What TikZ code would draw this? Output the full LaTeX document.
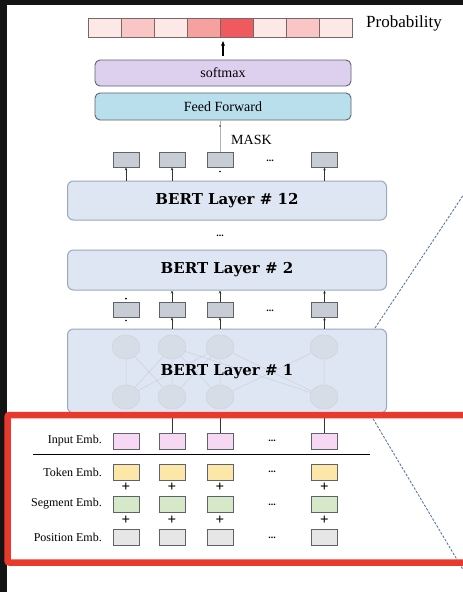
\documentclass[tikz,border=0pt]{standalone}
\usepackage{fontspec}
\setmainfont{Liberation Serif}
\newfontfamily\slabfont{DejaVu Serif}
\usetikzlibrary{arrows.meta,shapes.geometric}
\definecolor{bertfill}{HTML}{DFE6F3}
\definecolor{bertdraw}{HTML}{9AA8C0}
\definecolor{smfill}{HTML}{DDD0EF}
\definecolor{fffill}{HTML}{B9DEEC}
\definecolor{boxdraw}{HTML}{5E626A}
\definecolor{vecfill}{HTML}{C8CCD4}
\definecolor{inpfill}{HTML}{F6D8F4}
\definecolor{tokfill}{HTML}{FDE7A8}
\definecolor{segfill}{HTML}{D5E8C8}
\definecolor{posfill}{HTML}{E6E6E6}
\definecolor{redframe}{HTML}{E8392C}
\definecolor{dashblue}{HTML}{5A78A8}
\definecolor{ghostfill}{HTML}{D7DDE6}
\definecolor{ghostdraw}{HTML}{CBD1DA}
\definecolor{pa}{HTML}{FDE8E8}
\definecolor{pb}{HTML}{F9C5C5}
\definecolor{pc}{HTML}{F6A0A0}
\definecolor{pd}{HTML}{F05A5E}
\definecolor{pdraw}{HTML}{7A6666}
\begin{document}
\begin{tikzpicture}[x=1pt,y=-1pt,
  bertbox/.style={draw=bertdraw,line width=1pt,fill=bertfill,rounded corners=6pt,minimum width=319pt,inner sep=0pt,font=\slabfont\bfseries\fontsize{15}{17}\selectfont},
  headbox/.style={draw=boxdraw,line width=0.9pt,rounded corners=5pt,minimum width=256pt,inner sep=0pt,font=\fontsize{14}{16}\selectfont},
  vec/.style={draw=boxdraw,line width=0.8pt,minimum width=26pt,minimum height=15pt,inner sep=0pt},
  probcell/.style={draw=pdraw,line width=0.6pt,minimum width=33pt,minimum height=19pt,inner sep=0pt},
  emblabel/.style={anchor=east,inner sep=0pt,font=\fontsize{12}{14}\selectfont},
  dotsl/.style={inner sep=0pt,font=\bfseries\fontsize{10}{11}\selectfont},
  plus/.style={inner sep=0pt,font=\bfseries\fontsize{15}{16}\selectfont},
  up/.style={-{Stealth[length=3pt,width=2.5pt]},line width=0.6pt,black!80},
  faint/.style={draw=ghostdraw,line width=0.5pt},
  ghost/.style={draw=ghostdraw,fill=ghostfill,ellipse,minimum width=28pt,minimum height=24pt,inner sep=0pt},
  dashconn/.style={dashblue,line width=0.9pt,dash pattern=on 2.5pt off 1.5pt}
]
\useasboundingbox (0,0) rectangle (463,592);
\fill[white] (0,0) rectangle (463,592);
\fill[black!92] (0,0) rectangle (7,592);
\fill[black!92] (0,0) rectangle (463,5);

% probability bar
\foreach \i/\c in {1/pa,2/pb,3/pa,4/pc,5/pd,6/pa,7/pb,8/pa}{
  \node[probcell,fill=\c] (p\i) at ({88+33*(\i-1)+16.5},27.5) {};
}
\node[inner sep=0pt,font=\fontsize{17}{19}\selectfont] (prob) at (404,23) {Probability};

% head
\node[headbox,fill=smfill,minimum height=26pt] (softmax) at (223,73) {softmax};
\node[headbox,fill=fffill,minimum height=27pt] (ff) at (223,106.5) {Feed Forward};
\coordinate (arrbot) at (223,56);
\coordinate (arrtop) at (223,41);
\draw[-{Stealth[length=5pt,width=4pt]},line width=1.1pt] (arrbot) -- (arrtop);

% BERT layers
\node[bertbox,minimum height=39pt] (b12) at (227,200.5) {BERT Layer \# 12};
\node[dotsl] (vd) at (220,236) {...};
\node[bertbox,minimum height=40pt] (b2) at (227,270) {BERT Layer \# 2};
\node[bertbox,minimum height=84pt] (b1) at (227,371) {};

% ghost network inside BERT layer 1
\foreach \j/\x in {1/126,2/172,3/220,4/324}{
  \node[ghost] (gt\j) at (\x,347) {};
  \node[ghost] (gb\j) at (\x,397) {};
}
\draw[faint] (gb1) -- (gt2) (gb2) -- (gt1) (gb2) -- (gt3) (gb3) -- (gt2)
  (gb3) -- (gt4) (gb4) -- (gt3) (gb1) -- (gt3) (gb4) -- (gt2)
  (gb1) -- (gt1) (gb2) -- (gt2) (gb3) -- (gt3) (gb4) -- (gt4);
\node[inner sep=0pt,font=\slabfont\bfseries\fontsize{15}{17}\selectfont] (b1t) at (227,372) {BERT Layer \# 1};

% vectors above BERT 12
\foreach \j/\x in {1/126,2/172,3/220,4/324.5}{
  \node[vec,fill=vecfill] (t\j) at (\x,159.5) {};
  \node[vec,fill=vecfill] (m\j) at (\x,309.5) {};
}
\node[dotsl] (tdots) at (270,161) {...};
\node[dotsl] (mdots) at (270,311) {...};
\foreach \j in {1,2,4}{
  \draw[up] (b12.north -| t\j) -- (t\j.south);
}
\fill (t3.south) ++(0,4) circle (0.9pt);
\draw[gray!60,line width=0.5pt] (t3.north) -- (ff.south -| t3);
\fill[black!80] (220,126) circle (0.9pt);
\node[anchor=west,inner sep=0pt,font=\fontsize{14}{16}\selectfont] (mask) at (231,140) {MASK};

% vectors between BERT 1 and 2
\foreach \j in {2,3,4}{
  \draw[up] (b1.north -| m\j) -- (m\j.south);
  \draw[up] (m\j.north) -- (b2.south -| m\j);
}
\fill (m1.south) ++(0,3) circle (0.9pt);
\fill (m1.north) ++(0,-3) circle (0.9pt);

% embeddings
\foreach \j/\x in {1/126,2/172,3/220,4/324.5}{
  \node[vec,fill=inpfill,minimum height=16pt] (i\j) at (\x,441) {};
  \node[vec,fill=tokfill,minimum height=16pt] (k\j) at (\x,472) {};
  \node[vec,fill=segfill,minimum height=16pt] (s\j) at (\x,504.5) {};
  \node[vec,fill=posfill,minimum height=16pt] (q\j) at (\x,537.5) {};
  \node[plus] (pl\j) at (\x,487.5) {+};
  \node[plus] (pm\j) at (\x,520.5) {+};
}
\foreach \j in {2,3,4}{
  \draw[black!80,line width=0.7pt] (i\j.north) -- (b1.south -| i\j);
}
\foreach \y/\n in {441/id,472/kd,504.5/sd,537.5/qd}{
  \node[dotsl] (\n) at (272,\y) {...};
}
\node[emblabel] (li) at (102,441) {Input Emb.};
\node[emblabel] (lk) at (102,472) {Token Emb.};
\node[emblabel] (ls) at (102,504) {Segment Emb.};
\node[emblabel] (lq) at (102,537) {Position Emb.};
\coordinate (hl1) at (33,454);
\coordinate (hl2) at (370,454);
\draw[line width=0.9pt] (hl1) -- (hl2);

% dashed zoom lines
\coordinate (da1) at (375,328);
\coordinate (da2) at (468,188);
\coordinate (db1) at (369,412);
\coordinate (db2) at (468,578);
\draw[dashconn] (da1) -- (da2);
\draw[dashconn] (db1) -- (db2);

% red frame
\draw[redframe,line width=6.5pt,rounded corners=2pt] (7.5,415) rectangle (470,562.5);
\end{tikzpicture}
\end{document}
